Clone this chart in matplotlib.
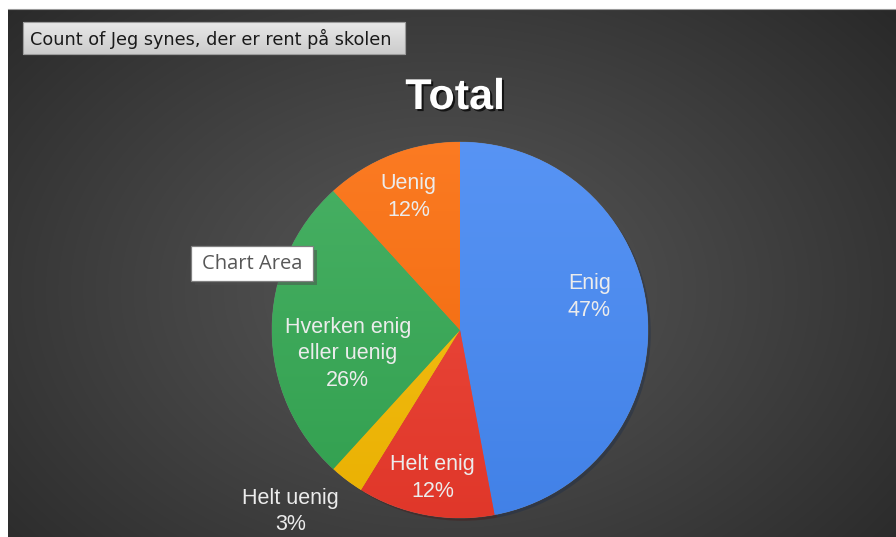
import numpy as np
import matplotlib
matplotlib.use("Agg")
import matplotlib.pyplot as plt
from matplotlib import patheffects as pe
from matplotlib.patches import Rectangle
import matplotlib.colors as mcolors

# ---- data ----
categories = ["Enig", "Helt enig", "Helt uenig", "Hverken enig\neller uenig", "Uenig"]
counts = [16, 4, 1, 9, 4]
colors = ["#4588f3", "#ec3a2c", "#f6ba02", "#34a853", "#fb6c0a"]
title = "Total"
field_button = "Count of Jeg synes, der er rent på skolen"
tooltip = "Chart Area"

# label placement styling (radial distance, angle nudge in degrees)
label_dist = [0.71, 0.80, 1.32, 0.61, 0.76]
label_nudge = [9.0, 0.0, -6.0, 12.0, 0.0]

W, H = 896, 537
fig = plt.figure(figsize=(W / 100, H / 100), dpi=100)
fig.patch.set_facecolor("white")

# ---- background axes in pixel coordinates ----
bg = fig.add_axes([0, 0, 1, 1])
bg.axis("off")
x0, y0 = 8, 9
yy, xx = np.mgrid[y0:H, x0:W]
cx, cy = 440, 290
d = np.sqrt(((xx - cx) / 600.0) ** 2 + ((yy - cy) / 430.0) ** 2)
d = np.clip(d, 0, 1) ** 1.1
c0 = np.array([0x57, 0x57, 0x57]) / 255.0
c1 = np.array([0x29, 0x29, 0x29]) / 255.0
img = c0[None, None, :] * (1 - d[..., None]) + c1[None, None, :] * d[..., None]
bg.imshow(img, extent=[x0, W, H, y0], aspect="auto", interpolation="bilinear", zorder=0)
bg.plot([x0, W], [y0, y0], color="#9a9a9a", lw=0.8, zorder=1)
bg.set_xlim(0, W)
bg.set_ylim(H, 0)

# title
bg.text(455, 98, title, fontsize=31, fontweight="bold", color="white",
        family="Liberation Sans", ha="center", va="center", zorder=5,
        path_effects=[pe.withSimplePatchShadow(offset=(1.5, -1.5),
                                               shadow_rgbFace="black", alpha=0.7)])

# field button
btn = Rectangle((23, 22), 382, 32, facecolor="#d6d6d6", edgecolor="#9c9c9c", lw=0.8, zorder=5)
bg.add_patch(btn)
grad = np.linspace(0, 1, 32)[:, None]
btn_img = np.dstack([0.91 - 0.11 * grad] * 3) * np.ones((32, 10, 1))
bi = bg.imshow(btn_img, extent=[23, 405, 54, 22], aspect="auto", zorder=5.1)
bi.set_clip_path(btn)
bg.add_patch(Rectangle((23, 22), 382, 32, facecolor="none", edgecolor="#9c9c9c", lw=0.8, zorder=5.2))
bg.text(30, 39, field_button, fontsize=12.7, color="#1a1a1a", family="DejaVu Sans",
        ha="left", va="center", zorder=6)

# ---- pie axes ----
pcx, pcy, pr = 460, 330, 188
pax = fig.add_axes([(pcx - pr) / W, 1 - (pcy + pr) / H, 2 * pr / W, 2 * pr / H])
pax.axis("off")
pax.patch.set_alpha(0)

wedges, _ = pax.pie(counts, colors=colors, startangle=90, counterclock=False, radius=1,
                    wedgeprops=dict(linewidth=0.5, edgecolor=(1, 1, 1, 0.2)))

# subtle vertical gradient on each wedge + shadow
for w, col in zip(wedges, colors):
    base = np.array(mcolors.to_rgb(col))
    top = base + (1 - base) * 0.10
    bot = base * 0.95
    t = np.linspace(0, 1, 200)[:, None, None]
    g = top[None, None, :] * (1 - t) + bot[None, None, :] * t
    g = np.repeat(g, 2, axis=1)
    im = pax.imshow(g, extent=[-1, 1, -1, 1], aspect="auto", zorder=2, interpolation="bilinear")
    im.set_clip_path(w)
    w.set_path_effects([pe.SimplePatchShadow(offset=(2, -2), alpha=0.35), pe.Normal()])
pax.set_xlim(-1, 1)
pax.set_ylim(-1, 1)

total = sum(counts)
for w, cat, c, dist, nud in zip(wedges, categories, counts, label_dist, label_nudge):
    mid = np.deg2rad((w.theta1 + w.theta2) / 2 + nud)
    pct = 100.0 * c / total
    pax.text(dist * np.cos(mid), dist * np.sin(mid), f"{cat}\n{pct:.0f}%",
             fontsize=15.5, color="#ececec", family="Liberation Sans",
             ha="center", va="center", linespacing=1.35, zorder=5, clip_on=False)

# ---- overlay for tooltip "Chart Area" ----
ov = fig.add_axes([0, 0, 1, 1])
ov.axis("off")
ov.patch.set_alpha(0)
ov.set_xlim(0, W)
ov.set_ylim(H, 0)
tip = Rectangle((191, 246), 122, 35, facecolor="white", edgecolor="#808080", lw=0.9, zorder=8,
                path_effects=[pe.SimplePatchShadow(offset=(3, -3), alpha=0.5), pe.Normal()])
ov.add_patch(tip)
ov.text(252, 264, tooltip, fontsize=14.5, color="#575757", family="Open Sans",
        ha="center", va="center", zorder=9)

fig.savefig("out.png", dpi=100, facecolor=fig.get_facecolor())
